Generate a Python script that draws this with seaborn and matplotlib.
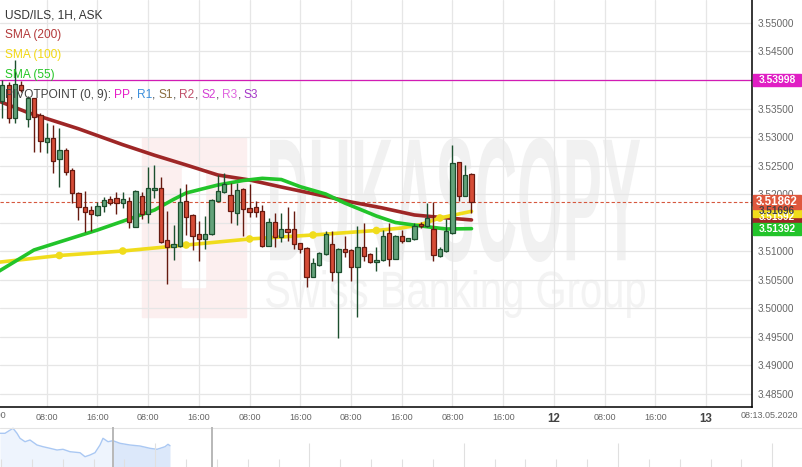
import numpy as np
import pandas as pd
import seaborn as sns
import matplotlib.pyplot as plt
from matplotlib.patches import Rectangle, PathPatch
from matplotlib.textpath import TextPath
from matplotlib.font_manager import FontProperties
from matplotlib.transforms import Affine2D, blended_transform_factory

# hourly candles, index 1..75
candle_idx = list(range(1, 76))
opens = [3.53632, 3.53912, 3.53328, 3.53912, 3.53311, 3.53679, 3.53386, 3.52918, 3.52977, 3.52609,
         3.52772, 3.52421, 3.52012, 3.51777, 3.51719, 3.51632, 3.51789, 3.51907, 3.51925, 3.51837,
         3.51877, 3.51426, 3.51965, 3.51644, 3.52070, 3.52100, 3.51193, 3.51075, 3.51093, 3.51877,
         3.51626, 3.51298, 3.51205, 3.51293, 3.51877, 3.52040, 3.51982, 3.51661, 3.52082, 3.51749,
         3.51767, 3.51707, 3.51093, 3.51503, 3.51251, 3.51381, 3.51381, 3.51135, 3.51047, 3.50549,
         3.50754, 3.50942, 3.51118, 3.50637, 3.51030, 3.51018, 3.50714, 3.51065, 3.50947, 3.50802,
         3.50842, 3.51311, 3.50860, 3.51268, 3.51181, 3.51205, 3.51468, 3.51444, 3.51381, 3.50918,
         3.51000, 3.51311, 3.52556, 3.51970, 3.52351]
closes = [3.53912, 3.53328, 3.53925, 3.53825, 3.53690, 3.53356, 3.52935, 3.52977, 3.52584, 3.52772,
          3.52381, 3.52012, 3.51777, 3.51689, 3.51644, 3.51789, 3.51895, 3.51837, 3.51837, 3.51912,
          3.51514, 3.52053, 3.51644, 3.52100, 3.52100, 3.51163, 3.51075, 3.51118, 3.51865, 3.51602,
          3.51268, 3.51205, 3.51298, 3.51895, 3.52053, 3.52170, 3.51707, 3.52070, 3.51732, 3.51689,
          3.51689, 3.51093, 3.51503, 3.51251, 3.51381, 3.51339, 3.51118, 3.51030, 3.50549, 3.50784,
          3.50960, 3.51293, 3.50637, 3.51030, 3.50988, 3.50714, 3.51065, 3.50918, 3.50802, 3.50842,
          3.51268, 3.50860, 3.51268, 3.51181, 3.51223, 3.51444, 3.51444, 3.51584, 3.50930, 3.51030,
          3.51351, 3.52539, 3.51970, 3.52333, 3.51862]
highs = [3.54000, 3.53970, 3.54351, 3.53982, 3.53719, 3.53690, 3.53421, 3.53240, 3.53211, 3.53153,
         3.52807, 3.52456, 3.52040, 3.52053, 3.51795, 3.51865, 3.51953, 3.51970, 3.52030, 3.52030,
         3.51953, 3.52070, 3.52040, 3.52479, 3.52509, 3.52293, 3.51707, 3.51456, 3.52100, 3.52175,
         3.51649, 3.51526, 3.51614, 3.51907, 3.52333, 3.52363, 3.52188, 3.52188, 3.52105, 3.52175,
         3.51882, 3.51807, 3.51584, 3.51661, 3.51661, 3.51767, 3.51707, 3.51149, 3.51065, 3.50872,
         3.50974, 3.51351, 3.51351, 3.51044, 3.51263, 3.51030, 3.51439, 3.51486, 3.50960, 3.51065,
         3.51368, 3.51486, 3.51281, 3.51368, 3.51233, 3.51486, 3.51514, 3.51837, 3.51865, 3.51075,
         3.51561, 3.52860, 3.52561, 3.52509, 3.52374]
lows = [3.53333, 3.53240, 3.53240, 3.53790, 3.53181, 3.52742, 3.52742, 3.52714, 3.52363, 3.52128,
        3.52333, 3.51837, 3.51544, 3.51339, 3.51351, 3.51614, 3.51679, 3.51807, 3.51644, 3.51760,
        3.51398, 3.51421, 3.51556, 3.51497, 3.51925, 3.51146, 3.50421, 3.50842, 3.51075, 3.51281,
        3.51018, 3.50830, 3.51035, 3.51281, 3.51860, 3.52018, 3.51497, 3.51456, 3.51268, 3.51602,
        3.51602, 3.51075, 3.51082, 3.51075, 3.51163, 3.51181, 3.51035, 3.50960, 3.50374, 3.50539,
        3.50742, 3.50930, 3.50479, 3.49468, 3.50889, 3.50479, 3.49837, 3.50830, 3.50784, 3.50654,
        3.50830, 3.50742, 3.50851, 3.51135, 3.51175, 3.51193, 3.51398, 3.51426, 3.50830, 3.50889,
        3.50977, 3.51307, 3.51882, 3.51965, 3.51672]

# moving averages
sma200_idx = [0, 5, 13, 20, 25, 30, 35, 40, 45, 51, 56, 61, 66, 70, 75]
sma200 = [3.53649, 3.53430, 3.53145, 3.52865, 3.52680, 3.52509, 3.52333, 3.52246, 3.52123,
          3.51982, 3.51860, 3.51754, 3.51632, 3.51590, 3.51545]
sma100_idx = [0, 10, 20, 30, 40, 50, 60, 64, 67, 70, 75]
sma100 = [3.50798, 3.50921, 3.51000, 3.51105, 3.51211, 3.51281, 3.51360, 3.51404, 3.51465,
          3.51579, 3.51696]
sma100_dots = [10, 20, 30, 40, 50, 60, 70]
sma55_idx = [0, 6, 11, 16, 21, 25, 28, 30, 35, 39, 42, 45, 48, 52, 55, 60, 63, 67, 71, 75]
sma55 = [3.50614, 3.51018, 3.51193, 3.51368, 3.51561, 3.51719, 3.51905, 3.52018, 3.52158, 3.52237,
         3.52275, 3.52254, 3.52128, 3.52000, 3.51842, 3.51614, 3.51500, 3.51439, 3.51386, 3.51392]

pivot_level = 3.53998
last_price = 3.51862
last_sma = {"200": 3.51592, "100": 3.51696, "55": 3.51392}

tick_idx = [8, 16, 24, 32, 40, 48, 56, 64, 72, 80, 88, 96, 104, 112]
tick_labels = ["08:00", "16:00", "08:00", "16:00", "08:00", "16:00", "08:00", "16:00",
               "08:00", "16:00", "12", "08:00", "16:00", "13"]
price_ticks = [3.485, 3.490, 3.495, 3.500, 3.505, 3.510, 3.515, 3.520, 3.525, 3.530,
               3.535, 3.540, 3.545, 3.550]
hidden_ticks = [3.515, 3.540]  # covered by the price boxes

# navigator strip
nav_pos = [0, 5, 13, 17, 20, 25, 30, 37, 43, 50, 57, 63, 70, 80, 85, 90, 95, 100, 103, 108,
           113, 120, 130, 140, 150, 157, 165, 168, 170]
nav_level = [33.7, 33.7, 38.7, 33.7, 28.7, 25.3, 27, 22, 20.3, 18.7, 17, 17.7, 15.3, 14.3, 10.3,
             12, 14.3, 22, 28.7, 25.3, 26.3, 23.7, 22, 21, 18.7, 17.7, 20.3, 22.7, 21.3]

sns.set_style("white")
plt.rcParams['font.family'] = ['Liberation Sans', 'DejaVu Sans']

W, H = 803, 467
fig = plt.figure(figsize=(W / 100, H / 100), dpi=100)
px = Affine2D().scale(1 / W, -1 / H).translate(0, 1) + fig.transFigure

ax = fig.add_axes([0, 60 / H, 752.5 / W, 407 / H])
ax.set_xlim(0.634, 119.32)
ax.set_ylim(3.482632, 3.554035)

# watermark
wm_logo = Rectangle((142, 138), 104, 179, transform=px, color="#fcefef", zorder=0.1)
wm_hole = Rectangle((182, 168), 23, 119, transform=px, color="white", zorder=0.11)
ax.add_patch(wm_logo)
ax.add_patch(wm_hole)


def stretched(s, x0, x1, ytop, ybot, color, weight):
	tp = TextPath((0, 0), s, size=100, prop=FontProperties(family="Liberation Sans", weight=weight))
	bb = tp.get_extents()
	tr = Affine2D().translate(-bb.x0, -bb.y0).scale((x1 - x0) / bb.width, -(ybot - ytop) / bb.height).translate(x0, ybot)
	ax.add_patch(PathPatch(tr.transform_path(tp), transform=px, color=color, lw=0, zorder=0.12))


stretched("DUKASCOPY", 270, 640, 138, 262, "#f1f1f1", "bold")
stretched("Swiss Banking Group", 266, 645, 270, 318, "#f3f3f3", "normal")

ax.set_axisbelow(True)
ax.grid(True, color="#e6e6e6", lw=0.9)
ax.set_xticks(tick_idx)
ax.set_xticklabels(tick_labels)
ax.set_yticks(price_ticks)
ax.set_yticklabels(["" if p in hidden_ticks else "%.5f" % p for p in price_ticks])
ax.yaxis.tick_right()
ax.tick_params(axis="y", length=0, pad=3.5, labelsize=7.2, labelcolor="#666666")
ax.tick_params(axis="x", length=0, pad=4, labelsize=6.5, labelcolor="#666666")
for lab in ax.get_xticklabels():
	if lab.get_text() in ("12", "13"):
		lab.set_fontsize(8.3)
		lab.set_fontweight("bold")
		lab.set_color("#444444")
for side in ["top", "left"]:
	ax.spines[side].set_visible(False)
for side in ["right", "bottom"]:
	ax.spines[side].set_color("black")
	ax.spines[side].set_linewidth(1.1)

# pivot and last price lines
ax.axhline(pivot_level, color="#d21cb4", lw=0.9, zorder=1)
ax.axhline(last_price, color="#d6583e", lw=0.8, ls=(0, (3, 2)), zorder=1)

# moving averages
sma_df = pd.concat([
	pd.DataFrame({"idx": sma200_idx, "val": sma200, "sma": "200"}),
	pd.DataFrame({"idx": sma100_idx, "val": sma100, "sma": "100"}),
	pd.DataFrame({"idx": sma55_idx, "val": sma55, "sma": "55"}),
])
sma_colors = {"200": "#9e2626", "100": "#f0dc1c", "55": "#22c42a"}
sns.lineplot(data=sma_df, x="idx", y="val", hue="sma", palette=sma_colors, lw=2.6,
             legend=False, ax=ax, zorder=2)
dots = pd.DataFrame({"idx": sma100_idx, "val": sma100})
dots = dots[dots["idx"].isin(sma100_dots)]
sns.scatterplot(data=dots, x="idx", y="val", color="#f0dc1c", s=30, edgecolor="none", ax=ax, zorder=2.1)

# candles
c = pd.DataFrame({"idx": candle_idx, "o": opens, "h": highs, "l": lows, "c": closes})
up = c["c"] >= c["o"]
for mask, fill, edge in [(up, "#64a27a", "#1c4f2e"), (~up, "#d64c36", "#661a10")]:
	d = c[mask]
	ax.vlines(d["idx"], d["l"], d["h"], color=edge, lw=1.0, zorder=3)
	body = (d["c"] - d["o"]).abs().clip(lower=0.00004)
	ax.bar(d["idx"], body, bottom=d[["o", "c"]].min(axis=1), width=0.68,
	       color=fill, edgecolor=edge, lw=0.9, zorder=4)
ax.set_xlabel("")
ax.set_ylabel("")

# price boxes on the right
bt = blended_transform_factory(ax.transAxes, ax.transData)
boxes = [(last_sma["200"], "#9e2626", "white", 11.5, 7.2),
         (last_sma["100"], "#f0dc1c", "#444444", 11.5, 7.2),
         (last_sma["55"], "#22c42a", "white", 12, 7.4),
         (pivot_level, "#e01ec4", "white", 12, 7.4),
         (last_price, "#df583d", "white", 14, 8.3)]
ppx = (3.554035 - 3.482632) / 407
for val, bg, fg, hpx, fs in boxes:
	ax.add_patch(Rectangle((1.0007, val - hpx / 2 * ppx), 48 / 752.5, hpx * ppx, transform=bt,
	                       color=bg, clip_on=False, zorder=10))
	ax.text(1.0007 + 24 / 752.5, val, "%.5f" % val, transform=bt, ha="center", va="center",
	        fontsize=fs, fontweight="bold", color=fg, zorder=11, clip_on=False)

# cut label at left and date at right
fig.text(-5 / W, 1 - 416 / H, "16:00", fontsize=6.5, color="#666666", ha="center", va="center")
ax.text(769.5, 416, "08:13.05.2020", transform=px, fontsize=6.5, color="#666666",
        ha="center", va="center", clip_on=False)

# legend texts
ax.text(5, 15, "USD/ILS, 1H, ASK", transform=px, fontsize=8.6, color="#333333", va="center", zorder=12)
ax.text(5, 35, "SMA (200)", transform=px, fontsize=8.6, color="#b33a3a", va="center", zorder=12)
ax.text(5, 55, "SMA (100)", transform=px, fontsize=8.6, color="#f2d814", va="center", zorder=12)
ax.text(5, 75, "SMA (55)", transform=px, fontsize=8.6, color="#26c626", va="center", zorder=12)
parts = [("PIVOTPOINT (0, 9): ", "#444444"), ("PP", "#e61ec8"), (", ", "#444444"),
         ("R1", "#3d8fdc"), (", ", "#444444"), ("S1", "#8b6d3f"), (", ", "#444444"),
         ("R2", "#c0506a"), (", ", "#444444"), ("S2", "#d43fd4"), (", ", "#444444"),
         ("R3", "#e067e0"), (", ", "#444444"), ("S3", "#a638c8")]
prev = ax.text(5, 95, parts[0][0], transform=px, fontsize=8.6, color=parts[0][1], va="center", zorder=12)
for s, col in parts[1:]:
	prev = ax.annotate(s, xy=(1, 0), xycoords=prev, va="bottom", ha="left", fontsize=8.6,
	                   color=col, zorder=12)

# navigator
nav = fig.add_axes([0, 0, 1, 40 / H])
nav.set_xlim(0, W)
nav.set_ylim(0, 40)
nav.axis("off")
nav_df = pd.DataFrame({"pos": nav_pos, "lvl": nav_level})
left = nav_df[nav_df["pos"] <= 113]
right = nav_df[nav_df["pos"] >= 113]
nav.fill_between(left["pos"], 0, left["lvl"], color="#eef4fd", lw=0)
nav.fill_between(right["pos"], 0, right["lvl"], color="#dce8fa", lw=0)
sns.lineplot(data=nav_df, x="pos", y="lvl", color="#aac8f3", lw=1.0, ax=nav)
nav.axhline(39.5, color="#e4e4e4", lw=0.8)
for i, t in enumerate(np.arange(1, W, 30.85)):
	top = 24 if i % 5 == 0 and i > 0 else 8
	nav.vlines(t, 0, top, color="#e0e0e0", lw=0.8)
nav.vlines([113, 212], 0, 40, color="#b8b8b8", lw=1.4)

fig.savefig("out.png", dpi=100)
